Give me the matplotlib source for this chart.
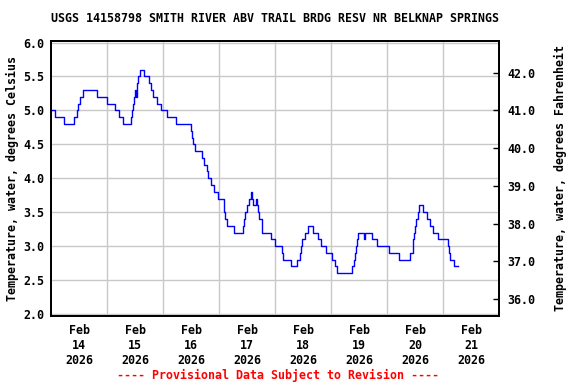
import matplotlib
matplotlib.use("Agg")
import matplotlib.pyplot as plt
import numpy as np

# Change points: hours since Feb 14 00:00, water temperature (deg C)
hours = [0.0, 1.7, 5.4, 9.6, 11.0, 11.6, 12.4, 13.7, 19.7, 24.0, 27.4, 29.0, 30.7,
         34.0, 34.6, 35.2, 35.6, 36.0, 36.3, 36.6, 37.3, 38.2, 39.6, 41.7, 42.9,
         43.7, 45.3, 47.2, 49.4, 53.6, 59.9, 60.4, 60.9, 61.4, 64.7, 65.6, 66.6,
         67.3, 68.6, 69.7, 71.4, 74.0, 74.6, 75.4, 78.4, 82.0, 82.6, 83.1, 83.7,
         84.7, 85.7, 86.1, 86.6, 87.6, 88.3, 88.7, 89.1, 90.4, 94.0, 95.7, 98.7,
         99.4, 102.7, 105.1, 106.6, 107.0, 107.6, 108.9, 109.9, 112.3, 114.4,
         115.7, 117.7, 120.3, 121.7, 122.6, 128.9, 129.6, 130.1, 130.7, 131.1,
         131.6, 134.0, 134.6, 137.3, 139.7, 144.9, 149.0, 153.6, 154.9, 155.3,
         155.9, 156.5, 157.0, 157.7, 159.4, 161.0, 162.2, 163.6, 165.9, 169.9,
         170.3, 171.0, 172.7, 174.2]
temps = [5.0, 4.9, 4.8, 4.9, 5.0, 5.1, 5.2, 5.3, 5.2, 5.1, 5.0, 4.9, 4.8,
         4.9, 5.0, 5.1, 5.2, 5.3, 5.2, 5.4, 5.5, 5.6, 5.5, 5.4, 5.3,
         5.2, 5.1, 5.0, 4.9, 4.8, 4.7, 4.6, 4.5, 4.4, 4.3, 4.2, 4.1,
         4.0, 3.9, 3.8, 3.7, 3.5, 3.4, 3.3, 3.2, 3.3, 3.4, 3.5, 3.6,
         3.7, 3.8, 3.7, 3.6, 3.7, 3.6, 3.5, 3.4, 3.2, 3.1, 3.0, 2.9,
         2.8, 2.7, 2.8, 2.9, 3.0, 3.1, 3.2, 3.3, 3.2, 3.1,
         3.0, 2.9, 2.8, 2.7, 2.6, 2.7, 2.8, 2.9, 3.0, 3.1,
         3.2, 3.1, 3.2, 3.1, 3.0, 2.9, 2.8, 2.9, 3.1, 3.2,
         3.3, 3.4, 3.5, 3.6, 3.5, 3.4, 3.3, 3.2, 3.1, 3.0,
         2.9, 2.8, 2.7, 2.7]

day_labels = ["Feb\n14\n2026", "Feb\n15\n2026", "Feb\n16\n2026", "Feb\n17\n2026",
              "Feb\n18\n2026", "Feb\n19\n2026", "Feb\n20\n2026", "Feb\n21\n2026"]
c_ticks = [2.0, 2.5, 3.0, 3.5, 4.0, 4.5, 5.0, 5.5, 6.0]
f_ticks = [36.0, 37.0, 38.0, 39.0, 40.0, 41.0, 42.0]

title = "USGS 14158798 SMITH RIVER ABV TRAIL BRDG RESV NR BELKNAP SPRINGS"

font = "DejaVu Sans Mono"
fs = 8.4

fig = plt.figure(figsize=(5.76, 3.84), dpi=100)
ax = fig.add_axes([0.089, 0.177, 0.7778, 0.7175])

x = np.array(hours) / 24.0
ax.plot(x, temps, drawstyle="steps-post", color="#0000ff", lw=1.0)

ymin, ymax = 1.97, 6.03
ax.set_xlim(0, 8)
ax.set_ylim(ymin, ymax)

ax.set_xticks(np.arange(len(day_labels)) + 0.5)
ax.set_xticklabels(day_labels, fontfamily=font, fontweight="bold", fontsize=fs,
                   linespacing=1.2)
ax.set_xticks(np.arange(1, 8), minor=True)
ax.tick_params(axis="x", which="both", length=0, pad=6)
ax.grid(True, which="minor", axis="x", color="#c8c8c8", lw=1.0)

ax.set_yticks(c_ticks)
ax.set_yticklabels([f"{v:.1f}" for v in c_ticks], fontfamily=font,
                   fontweight="bold", fontsize=fs)
ax.tick_params(axis="y", length=0, pad=5)
ax.grid(True, which="major", axis="y", color="#c8c8c8", lw=1.0)
ax.set_axisbelow(True)

ax.set_ylabel("Temperature, water, degrees Celsius", fontfamily=font,
              fontweight="bold", fontsize=fs, labelpad=3)

for s in ax.spines.values():
    s.set_linewidth(1.3)
    s.set_color("black")

ax2 = ax.twinx()
ax2.set_ylim(ymin * 9 / 5 + 32, ymax * 9 / 5 + 32)
ax2.set_yticks(f_ticks)
ax2.set_yticklabels([f"{v:.1f}" for v in f_ticks], fontfamily=font,
                    fontweight="bold", fontsize=fs)
ax2.tick_params(axis="y", direction="in", length=4, width=1, pad=6)
ax2.set_ylabel("Temperature, water, degrees Fahrenheit", fontfamily=font,
               fontweight="bold", fontsize=fs, labelpad=13)
for s in ax2.spines.values():
    s.set_linewidth(1.3)

ax.set_title(title, fontfamily=font, fontweight="bold", fontsize=fs, pad=13)

fig.text(0.483, 0.022, "---- Provisional Data Subject to Revision ----",
         color="red", fontfamily=font, fontweight="bold", fontsize=fs,
         ha="center", va="center")

fig.savefig("out.png", dpi=100)
